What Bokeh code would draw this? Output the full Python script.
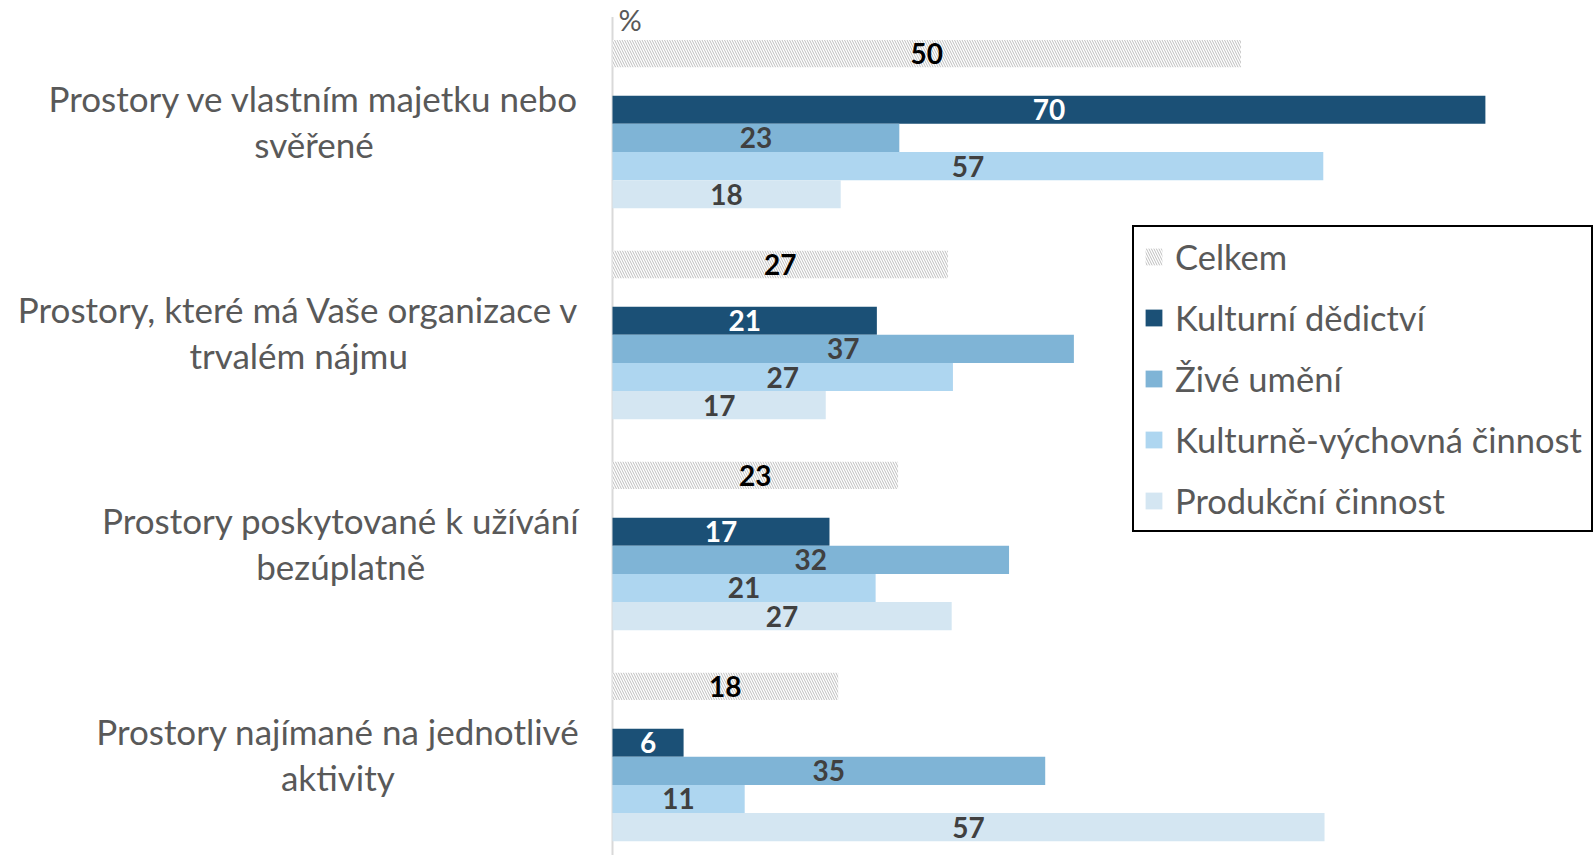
from bokeh.plotting import figure
from bokeh.models import ColumnDataSource, Range1d, Label
from bokeh.core.properties import value
from bokeh.embed import file_html
from bokeh.resources import INLINE

# ---- data ----
categories = [
    "Prostory ve vlastním majetku nebo\nsvěřené",
    "Prostory, které má Vaše organizace v\ntrvalém nájmu",
    "Prostory poskytované k užívání\nbezúplatně",
    "Prostory najímané na jednotlivé\naktivity",
]
series_names = ["Celkem", "Kulturní dědictví", "Živé umění",
                "Kulturně-výchovná činnost", "Produkční činnost"]
celkem = [50.4, 26.9, 22.9, 18.1]
kulturni_dedictvi = [70.0, 21.2, 17.4, 5.7]
zive_umeni = [23.0, 37.0, 31.8, 34.7]
kulturne_vychovna = [57.0, 27.3, 21.1, 10.6]
produkcni = [18.3, 17.1, 27.2, 57.1]
unit_label = "%"

# ---- styling / layout ----
FONT = "Lato"
colors = ["#ffffff", "#1b5076", "#7fb4d6", "#aed6f0", "#d4e6f2"]
label_colors = ["#000000", "#ffffff", "#404040", "#404040", "#404040"]
GROUP_PITCH = 7.5
slot_offsets = [0.5, 2.5, 3.5, 4.5, 5.5]
all_series = [celkem, kulturni_dedictvi, zive_umeni, kulturne_vychovna, produkcni]

p = figure(width=1595, height=855,
           x_range=Range1d(-49.08, 78.83), y_range=Range1d(29.01, -1.386),
           output_backend="svg", toolbar_location=None,
           x_axis_location=None, y_axis_location=None, min_border=0)
p.grid.visible = False
p.outline_line_color = None
p.background_fill_color = "white"

# axis line
p.segment(x0=[0], y0=[-0.8], x1=[0], y1=[29.01], line_color="#d9d9d9", line_width=2)

for si, (name, vals) in enumerate(zip(series_names, all_series)):
    ys = [g * GROUP_PITCH + slot_offsets[si] for g in range(len(vals))]
    src = ColumnDataSource(dict(y=ys, right=vals, mid=[v / 2 for v in vals],
                                lab=[f"{v:.0f}" for v in vals]))
    if si == 0:
        p.hbar(y="y", right="right", left=0, height=0.97, source=src,
               fill_color="white", line_color=None,
               hatch_pattern="left_diagonal_line", hatch_color="#bdbdbd",
               hatch_scale=5, hatch_weight=1, legend_label=name)
    else:
        p.hbar(y="y", right="right", left=0, height=1.0, source=src,
               fill_color=colors[si], line_color=None, legend_label=name)
    p.text(x="mid", y="y", text="lab", source=src, text_align="center",
           text_baseline="middle", text_font=value(FONT), text_font_style="bold",
           text_font_size="28px", text_color=label_colors[si])

# category labels
cat_src = ColumnDataSource(dict(x=[0] * len(categories),
                                y=[g * GROUP_PITCH + 2.9 for g in range(len(categories))],
                                t=categories))
p.text(x="x", y="y", text="t", source=cat_src, x_offset=-33,
       anchor="center_right", text_align="center", text_baseline="middle",
       text_font=value(FONT), text_font_size="35px", text_color="#595959",
       text_line_height=1.1)

p.add_layout(Label(x=0, y=-0.72, x_offset=6, text=unit_label, text_baseline="middle",
                   text_font=FONT, text_font_size="29px", text_color="#595959"))

leg = p.legend[0]
leg.location = (1132, 323)
leg.label_text_font = FONT
leg.label_text_font_size = "34.5px"
leg.label_text_color = "#595959"
leg.glyph_width = 21
leg.glyph_height = 21
leg.label_standoff = 11
leg.label_height = 41
leg.spacing = 20
leg.padding = 9
leg.margin = 0
leg.border_line_color = "black"
leg.border_line_alpha = 1.0
leg.border_line_width = 2
leg.background_fill_alpha = 1.0

open("out.html", "w").write(file_html(p, INLINE))
